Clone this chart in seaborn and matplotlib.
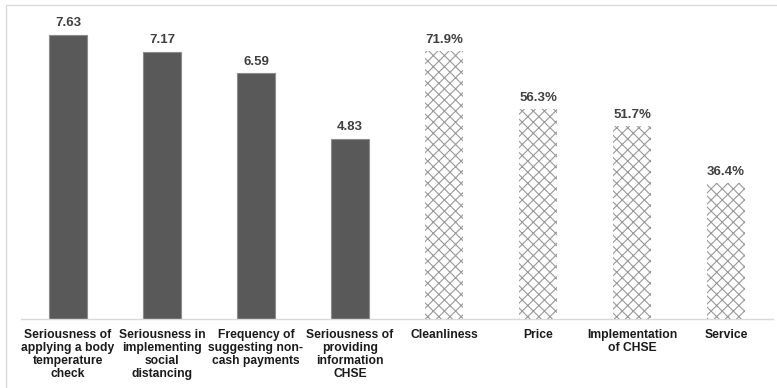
import matplotlib
matplotlib.use("Agg")
import matplotlib.pyplot as plt
from matplotlib.patches import Rectangle
import seaborn as sns
import pandas as pd
import numpy as np

# Mean scores (0-10 scale) for the operational practices
score_labels = [
    "Seriousness of\napplying a body\ntemperature\ncheck",
    "Seriousness in\nimplementing\nsocial\ndistancing",
    "Frequency of\nsuggesting non-\ncash payments",
    "Seriousness of\nproviding\ninformation\nCHSE",
]
score_values = [7.63, 7.17, 6.59, 4.83]

# Share of respondents (%) naming each factor
pct_labels = ["Cleanliness", "Price", "Implementation\nof CHSE", "Service"]
pct_values = [71.9, 56.3, 51.7, 36.4]

all_labels = score_labels + pct_labels

sns.set_style("white")
plt.rcParams["font.family"] = ["Liberation Sans", "DejaVu Sans"]
plt.rcParams["hatch.linewidth"] = 0.8

fig = plt.figure(figsize=(7.77, 3.88), dpi=100)
ax = fig.add_axes([21 / 777, 69 / 388, 752 / 777, 313 / 388])
ax2 = ax.twinx()

scores = pd.DataFrame({"item": score_labels, "value": score_values})
pcts = pd.DataFrame({"item": pct_labels, "value": pct_values})

sns.barplot(data=scores, x="item", y="value", order=all_labels, ax=ax,
            color="#595959", saturation=1, width=0.4,
            edgecolor="#8c8c8c", linewidth=0.8)
sns.barplot(data=pcts, x="item", y="value", order=all_labels, ax=ax2,
            color="white", saturation=1, width=0.4,
            edgecolor="#999999", linewidth=0, hatch="xxx")

ax.set_ylim(0, 8.4)
ax2.set_ylim(0, 84)

label_kw = dict(fontsize=9.5, fontweight="bold", color="#404040", padding=4)
ax.bar_label(ax.containers[0], labels=[f"{v:.2f}" for v in score_values], **label_kw)
ax2.bar_label(ax2.containers[0], labels=[f"{v:.1f}%" for v in pct_values], **label_kw)

for a in (ax, ax2):
    a.set_xlabel("")
    a.set_ylabel("")
    for s in ("top", "right", "left"):
        a.spines[s].set_visible(False)
    a.set_yticks([])
ax2.spines["bottom"].set_visible(False)

ax.set_xlim(-0.5, len(all_labels) - 0.5)
ax.spines["bottom"].set_color("#d9d9d9")
ax.spines["bottom"].set_linewidth(1.0)
ax.set_xticks(range(len(all_labels)))
ax.set_xticklabels(all_labels, fontsize=8.7, fontweight="bold", color="#1a1a1a",
                   linespacing=1.12)
ax.tick_params(axis="x", which="major", length=0, pad=7)
ax.set_xticks(np.arange(-0.5, len(all_labels)), minor=True)
ax.tick_params(axis="x", which="minor", direction="inout", length=6,
               color="#d9d9d9", width=1)

# Frame line along the top and left of the chart area
fig.patches.append(Rectangle((6 / 777, -0.1), 1.2, 1.1 - 5 / 388,
                             transform=fig.transFigure, fill=False,
                             edgecolor="#d9d9d9", linewidth=1.0, zorder=0))

fig.savefig("out.png", dpi=100)
